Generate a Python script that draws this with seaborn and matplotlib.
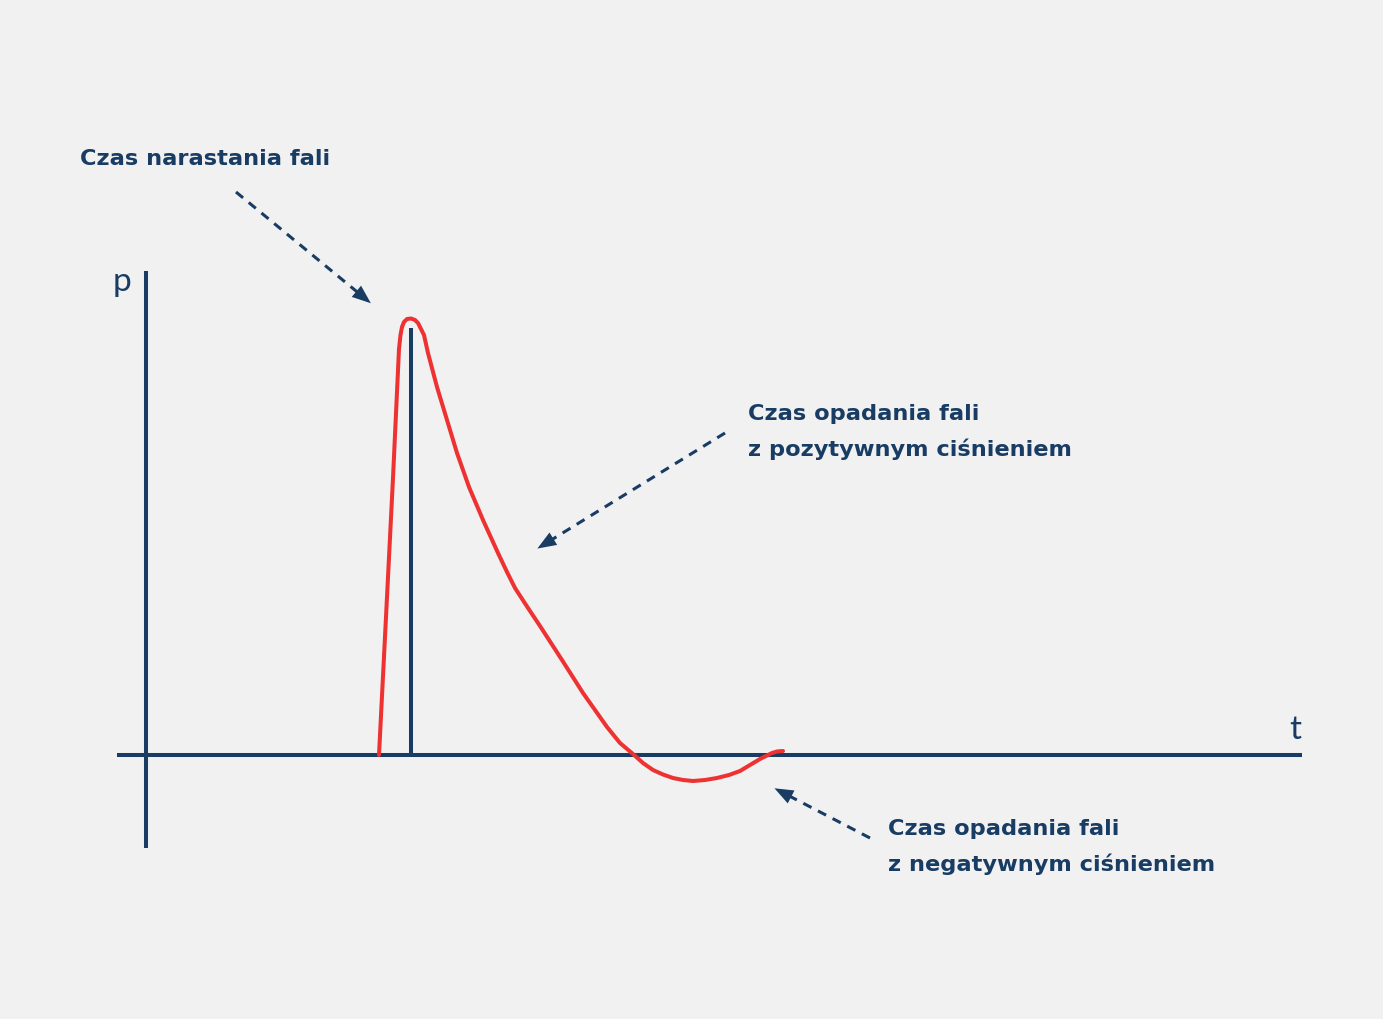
import numpy as np
import pandas as pd
import seaborn as sns
import matplotlib.pyplot as plt

# pressure wave (t, p in arbitrary units)
wave_t = [2.33, 2.40, 2.47, 2.53, 2.545, 2.56, 2.58, 2.61, 2.65, 2.69, 2.72, 2.745,
          2.78, 2.82, 2.91, 3.01, 3.11, 3.23, 3.37, 3.52, 3.61, 3.69, 3.82, 3.94,
          4.16, 4.37, 4.61, 4.74, 4.87, 4.97, 5.07, 5.17, 5.27, 5.37, 5.47, 5.59,
          5.71, 5.83, 5.94, 6.04, 6.14, 6.20, 6.26, 6.31, 6.37]
wave_p = [0.00, 1.38, 2.77, 4.06, 4.20, 4.28, 4.33, 4.36, 4.365, 4.35, 4.32, 4.27,
          4.20, 4.02, 3.68, 3.35, 3.02, 2.68, 2.35, 2.02, 1.83, 1.67, 1.47, 1.29,
          0.95, 0.62, 0.28, 0.12, 0.01, -0.08, -0.15, -0.195, -0.23, -0.25, -0.26, -0.25,
          -0.23, -0.20, -0.16, -0.10, -0.04, -0.01, 0.02, 0.035, 0.04]

peak_t = [2.65, 2.65]
peak_p = [0.00, 4.27]

t_axis = [-0.29, 11.56]
p_axis = [4.84, -0.93]

label_lines = [['Czas narastania fali'],
               ['Czas opadania fali', 'z pozytywnym ciśnieniem'],
               ['Czas opadania fali', 'z negatywnym ciśnieniem']]
label_x = [-0.66, 6.02, 7.42]
label_baselines = [[5.90], [3.35, 2.99], [-0.80, -1.16]]
arrow_from = [(0.90, 5.63), (5.79, 3.22), (7.24, -0.83)]
arrow_to = [(2.27, 4.50), (3.89, 2.05), (6.26, -0.32)]

NAVY = '#183c63'
RED = '#ee3232'
BG = '#f1f1f1'

sns.set_theme(style='white', rc={'axes.facecolor': BG, 'figure.facecolor': BG})

fig = plt.figure(figsize=(13.83, 10.19), dpi=100)
ax = fig.add_axes([0, 0, 1, 1])
ax.set_xlim(-1.46, 12.37)
ax.set_ylim(-2.64, 7.55)
ax.axis('off')

# axes of the diagram
ax.plot(t_axis, [0, 0], color=NAVY, lw=2.9, solid_capstyle='butt')
ax.plot([0, 0], p_axis, color=NAVY, lw=2.9, solid_capstyle='butt')
ax.plot(peak_t, peak_p, color=NAVY, lw=2.9, solid_capstyle='butt')

wave = pd.DataFrame({'t': wave_t, 'p': wave_p})
sns.lineplot(data=wave, x='t', y='p', ax=ax, color=RED, lw=2.9,
             estimator=None, sort=False, solid_joinstyle='round')

ax.text(-0.24, 4.73, 'p', color=NAVY, fontsize=24, family='Lato',
        fontweight='normal', ha='center', va='center')
ax.text(11.49, 0.25, 't', color=NAVY, fontsize=24, family='Lato',
        fontweight='normal', ha='center', va='center')

for lines, x, ys in zip(label_lines, label_x, label_baselines):
    for txt, y in zip(lines, ys):
        ax.text(x, y, txt, color=NAVY, fontsize=16.2, family='DejaVu Sans',
                fontweight='bold', ha='left', va='baseline')

for (x0, y0), (x1, y1) in zip(arrow_from, arrow_to):
    dx, dy = x1 - x0, y1 - y0
    n = np.hypot(dx, dy)
    ux, uy = dx / n, dy / n
    ax.plot([x0, x1 - ux * 0.10], [y0, y1 - uy * 0.10], color=NAVY, lw=2.2,
            dashes=(3, 2.4))
    ax.annotate('', xy=(x1, y1), xytext=(x1 - ux * 0.14, y1 - uy * 0.14),
                arrowprops=dict(arrowstyle='-|>,head_length=0.9,head_width=0.35',
                                color=NAVY, lw=0, mutation_scale=15))

fig.savefig('out.png', dpi=100, facecolor=BG)
